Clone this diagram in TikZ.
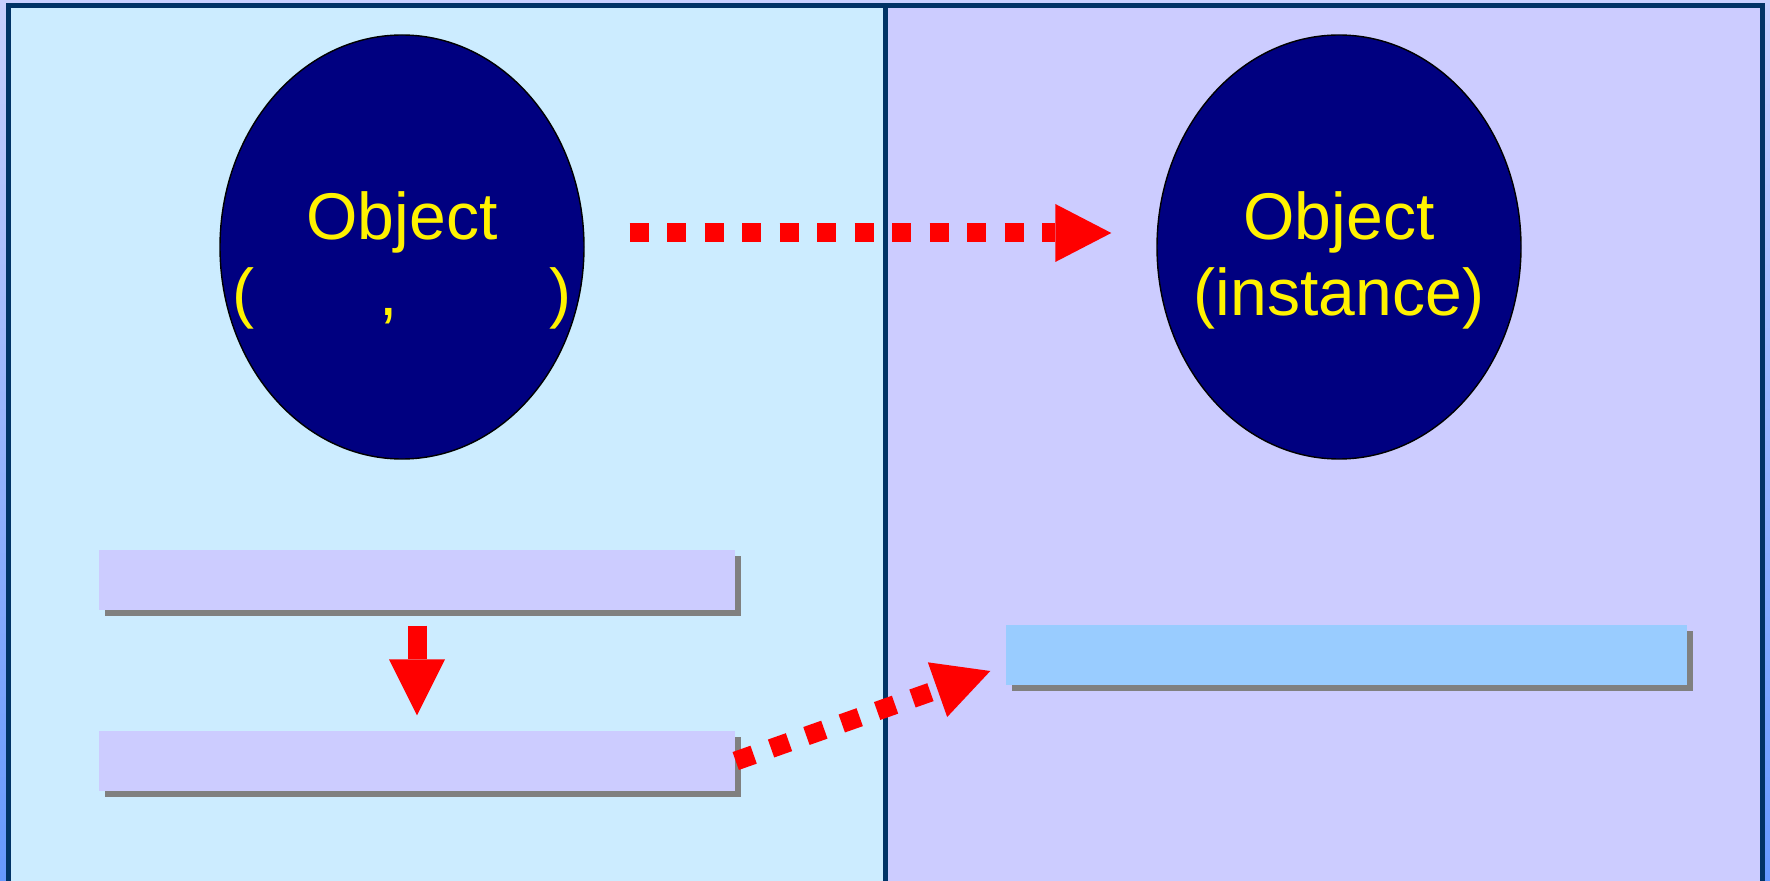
\documentclass[tikz,border=0pt]{standalone}
\usepackage{fontspec}
\setmainfont{Liberation Sans}
\usepackage{tikz}
\usetikzlibrary{arrows.meta,shapes.geometric,shadows}

\definecolor{framecol}{HTML}{003366}
\definecolor{leftbg}{HTML}{CCECFF}
\definecolor{rightbg}{HTML}{CCCCFF}
\definecolor{objfill}{HTML}{000080}
\definecolor{slotlilac}{HTML}{CCCCFF}
\definecolor{slotblue}{HTML}{99CCFF}
\definecolor{edgetop}{HTML}{C8D0FF}
\definecolor{edgebottom}{HTML}{6699FF}

\begin{document}
\begin{tikzpicture}[
	obj/.style={ellipse, draw=black, fill=objfill, text=yellow, inner xsep=-1cm, inner ysep=0pt,
		minimum width=3.64cm, minimum height=4.24cm, align=center,
		font=\fontsize{18.8}{21.6}\selectfont},
	slot/.style={rectangle, inner sep=0pt, minimum width=6.36cm, minimum height=0.6cm,
		drop shadow={shadow xshift=0.055cm, shadow yshift=-0.055cm, fill=gray, opacity=1}},
	dotarrow/.style={red, line width=0.19cm, dash pattern=on 0.19cm off 0.185cm,
		-{Triangle[length=0.56cm, width=0.58cm, line width=0pt]}},
	blockarrow/.style={red, line width=0.19cm,
		-{Triangle[length=0.56cm, width=0.56cm, line width=0pt]}}
]

\clip (0,0) rectangle (17.7,8.8);
\shade[top color=edgetop, bottom color=edgebottom] (0,0) rectangle (17.7,8.8);

% the two panels
\fill[leftbg] (0.085,-0.1) rectangle (8.855,8.745);
\fill[rightbg] (8.855,-0.1) rectangle (17.625,8.745);
\draw[framecol, line width=0.05cm] (0.085,-0.1) rectangle (17.625,8.745);
\draw[framecol, line width=0.05cm] (8.855,-0.1) -- (8.855,8.745);

\node[obj] (objL) at (4.02,6.33) {\rule{0pt}{0.75cm}Object\\(\hspace{1.25cm},\hspace{1.51cm})};
\node[obj] (objR) at (13.39,6.33) {\rule{0pt}{0.75cm}Object\\(instance)};

\node[slot, fill=slotlilac] (high) at (4.17,3.00) {};
\node[slot, fill=slotlilac] (low) at (4.17,1.19) {};
\node[slot, fill=slotblue, minimum width=6.81cm] (target) at (13.465,2.25) {};

\draw[dotarrow, shorten <=0.45cm, shorten >=0.45cm] ([yshift=0.14cm]objL.east) -- ([yshift=0.14cm]objR.west);
\draw[blockarrow, shorten <=0.15cm, shorten >=0.15cm] (high.south) -- (low.north);
\draw[dotarrow] (low.east) -- ([xshift=-0.15cm, yshift=-0.16cm]target.west);

\end{tikzpicture}
\end{document}
